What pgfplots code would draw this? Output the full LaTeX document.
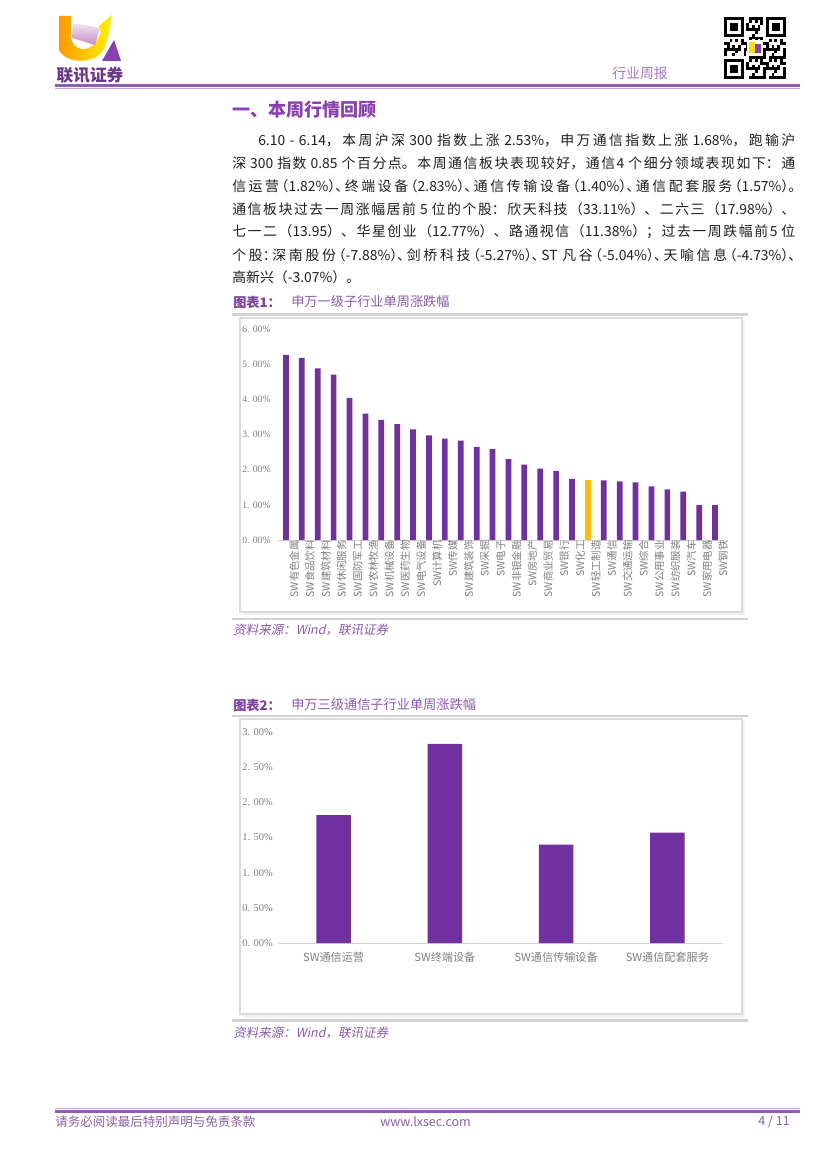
\documentclass[border=0pt]{standalone}
\usepackage{pgfplots}
\pgfplotsset{compat=1.18}
\usepackage{pgfplotstable}
\usepackage{fontspec}
\setmainfont{Noto Sans CJK SC}
\newfontfamily\tickfont{Liberation Serif}
\newfontfamily\srcfont[FakeSlant=0.2]{Noto Sans CJK SC}
\newfontfamily\tightfont[RawFeature=+halt]{Noto Sans CJK SC}
\XeTeXlinebreaklocale "zh"
\XeTeXlinebreakskip=0pt plus 2pt minus 1pt

\definecolor{barpurple}{HTML}{7030A0}
\definecolor{baryellow}{HTML}{FFC000}
\definecolor{headpurple}{HTML}{8A3FB3}
\definecolor{titlepurple}{HTML}{7B3FA0}
\definecolor{softpurple}{HTML}{8C5AB0}
\definecolor{footpurple}{HTML}{8761A8}
\definecolor{linedark}{HTML}{8E5BB5}
\definecolor{linelight}{HTML}{C7A6DE}
\definecolor{ticktext}{HTML}{7F7F7F}
\definecolor{bodytext}{HTML}{1F1F1F}

\newcommand{\fs}[1]{\fontsize{#1}{#1}\selectfont}
\newcommand{\jline}[1]{\parfillskip=0pt\tolerance=9999\relax #1\par}
\newcommand{\finder}[2]{%
  \fill[white] (#1*2.8-2.8,#2*2.8-2.8) rectangle ++(25.2,25.2);
  \fill[black] (#1*2.8,#2*2.8) rectangle ++(19.6,19.6);
  \fill[white] (#1*2.8+2.8,#2*2.8+2.8) rectangle ++(14,14);
  \fill[black] (#1*2.8+5.6,#2*2.8+5.6) rectangle ++(8.4,8.4);}

% SW level-1 industries, weekly change (%)
\pgfplotstableread{
x y
0 5.27
1 5.19
2 4.89
3 4.71
4 4.05
5 3.60
6 3.42
7 3.30
8 3.15
9 2.98
10 2.89
11 2.83
12 2.65
13 2.59
14 2.30
15 2.15
16 2.03
17 1.97
18 1.74
20 1.70
21 1.67
22 1.64
23 1.53
24 1.44
25 1.38
26 0.99
27 0.99
}\swone

% SW level-3 telecom sub-industries
\pgfplotstableread{
x y
0 1.82
1 2.83
2 1.40
3 1.57
}\swthree

\begin{document}
\begin{tikzpicture}
\begin{scope}[x=0.72pt,y=-0.72pt]
  \path[use as bounding box, fill=white] (0,0) rectangle (827,1170);

  % ---- header ----
  \shade[left color=orange!80!yellow, right color=yellow!90!orange]
    (59,16) -- (71,16) -- (71,37) .. controls (72,50) and (88,54) .. (96,42)
    -- (101,33) -- (99,26) -- (112,15) -- (109,34) -- (104,49)
    .. controls (97,63) and (68,66) .. (59,50) -- cycle;
  \shade[top color=violet!10, bottom color=violet!45] (73,23) -- (100,28) -- (95,45) -- (72,38) -- cycle;
  \fill[headpurple] (102,61) -- (121,61) -- (114,40) -- cycle;
  \node[font=\bfseries\fs{12}, text=titlepurple!85!black, inner sep=0] at (90,75) {联讯证券};
  \node[anchor=west, font=\fs{10}, text=softpurple!80, inner sep=0] at (612,73) {行业周报};

  \begin{scope}[shift={(724,17)}]
    \foreach \i in {0,...,21}{\foreach \j in {0,...,21}{%
      \pgfmathtruncatemacro\v{mod(\i*\i+3*\j*\j+\i*\j+5*\i+2*\j,7)}%
      \ifnum\v<4 \fill (\i*2.8,\j*2.8) rectangle ++(2.8,2.8);\fi}}
    \finder{0}{0}\finder{15}{0}\finder{0}{15}
    \fill[white] (23,23) rectangle ++(16,16);
    \fill[yellow!80!orange] (25,25) rectangle ++(6,11);
    \fill[headpurple] (31,27) rectangle ++(6,9);
  \end{scope}

  \draw[linedark, line width=2pt] (55,85.5) -- (800,85.5);
  \draw[linelight, line width=1pt] (55,88.5) -- (800,88.5);

  % ---- section text ----
  \node[anchor=west, inner sep=0, font=\bfseries\fs{13}, text=headpurple] at (232,110) {一、本周行情回顾};
  \begin{scope}[every node/.style={anchor=west, inner sep=0, font=\fs{10}, text=bodytext, align=justify}]
    \node[text width=386.6pt] at (258,140) {\jline{6.10 - 6.14，本周沪深 300 指数上涨 2.53\%，申万通信指数上涨 1.68\%，跑输沪}};
    \node[text width=405.4pt] at (232,163) {\jline{深 300 指数 0.85 个百分点。本周通信板块表现较好，通信4 个细分领域表现如下：通}};
    \node[text width=405.4pt] at (232,186) {\jline{\tightfont 信运营（1.82\%）、终端设备（2.83\%）、通信传输设备（1.40\%）、通信配套服务（1.57\%）。}};
    \node[text width=405.4pt] at (232,209) {\jline{通信板块过去一周涨幅居前 5 位的个股：欣天科技（33.11\%）、二六三（17.98\%）、}};
    \node[text width=405.4pt] at (232,232) {\jline{七一二（13.95）、华星创业（12.77\%）、路通视信（11.38\%）；过去一周跌幅前5 位}};
    \node[text width=405.4pt] at (232,255) {\jline{\tightfont 个股：深南股份（-7.88\%）、剑桥科技（-5.27\%）、ST 凡谷（-5.04\%）、天喻信息（-4.73\%）、}};
    \node at (232,277) {高新兴（-3.07\%）。};
  \end{scope}

  % ---- chart 1 frame ----
  \node[anchor=west, inner sep=0, font=\bfseries\fs{9.5}, text=titlepurple] at (233,302) {图表1：};
  \node[anchor=west, inner sep=0, font=\fs{9.5}, text=softpurple] at (291,302) {申万一级子行业单周涨跌幅};
  \draw[gray!35, line width=1.5pt] (232,314.5) -- (748,314.5);
  \draw[gray!12, line width=1.5pt] (743.5,320) -- (743.5,613.5) -- (242,613.5);
  \draw[gray!28, line width=0.8pt] (240,318) rectangle (742,612);
  \draw[gray!35, line width=1.5pt] (232,619) -- (748,619);
  \node[anchor=west, inner sep=0, font=\srcfont\fs{9}, text=softpurple] at (233,630) {资料来源：Wind，联讯证券};

  % ---- chart 2 frame ----
  \node[anchor=west, inner sep=0, font=\bfseries\fs{9.5}, text=titlepurple] at (233,705) {图表2：};
  \node[anchor=west, inner sep=0, font=\fs{9.5}, text=softpurple] at (291,705) {申万三级通信子行业单周涨跌幅};
  \draw[gray!35, line width=1.5pt] (232,716) -- (748,716);
  \draw[gray!12, line width=1.5pt] (743.5,721) -- (743.5,1015.5) -- (242,1015.5);
  \draw[gray!28, line width=0.8pt] (240,719) rectangle (742,1014);
  \draw[gray!35, line width=1.5pt] (232,1020.5) -- (748,1020.5);
  \node[anchor=west, inner sep=0, font=\srcfont\fs{9}, text=softpurple] at (233,1033) {资料来源：Wind，联讯证券};

  % ---- footer ----
  \draw[linelight, line width=1pt] (55,1108.5) -- (800,1108.5);
  \draw[linedark, line width=2pt] (55,1111.5) -- (800,1111.5);
  \node[anchor=west, inner sep=0, font=\fs{9}, text=footpurple] at (55,1122) {请务必阅读最后特别声明与免责条款};
  \node[anchor=west, inner sep=0, font=\fs{9}, text=footpurple] at (380,1122) {www.lxsec.com};
  \node[anchor=east, inner sep=0, font=\fs{9}, text=footpurple] at (790,1122) {4 / 11};
\end{scope}

\pgfplotsset{
  reportbars/.style={
    scale only axis, anchor=south west,
    ybar, bar shift=0pt,
    axis x line=bottom, axis y line=left,
    x axis line style={-, draw=gray!35, line width=0.7pt},
    y axis line style={draw=none},
    major tick length=0pt,
    enlargelimits=false, ymin=0,
    yticklabel style={font=\tickfont\fs{7}, text=ticktext, anchor=west, inner sep=0pt, xshift=-25.9pt},
  }
}

% chart 1
\begin{axis}[reportbars,
  at={(200.16pt,-388.8pt)}, width=320.4pt, height=151.7pt,
  xmin=-0.5, xmax=27.5, ymax=6, bar width=4.1pt,
  ytick={0,1,2,3,4,5,6},
  yticklabels={0. 00\%,1. 00\%,2. 00\%,3. 00\%,4. 00\%,5. 00\%,6. 00\%},
  xtick={0,...,27},
  xticklabels={SW有色金属,SW食品饮料,SW建筑材料,SW休闲服务,SW国防军工,SW农林牧渔,SW机械设备,SW医药生物,SW电气设备,SW计算机,SW传媒,SW建筑装饰,SW采掘,SW电子,SW非银金融,SW房地产,SW商业贸易,SW银行,SW化工,SW轻工制造,SW通信,SW交通运输,SW综合,SW公用事业,SW纺织服装,SW汽车,SW家用电器,SW钢铁},
  xticklabel style={rotate=90, anchor=east, font=\fs{7.5}, text=ticktext, inner sep=0pt, yshift=-5.8pt},
]
  \addplot[draw=none, fill=barpurple] table[x=x, y=y] {\swone};
  \addplot[draw=none, fill=baryellow] coordinates {(19,1.71)};
\end{axis}

% chart 2
\begin{axis}[reportbars,
  at={(200.16pt,-678.96pt)}, width=320.4pt, height=151.9pt,
  xmin=-0.5, xmax=3.5, ymax=3, bar width=24.8pt,
  ytick={0,0.5,1,1.5,2,2.5,3},
  yticklabels={0. 00\%,0. 50\%,1. 00\%,1. 50\%,2. 00\%,2. 50\%,3. 00\%},
  yticklabel style={font=\tickfont\fs{7.5}},
  xtick={0,1,2,3},
  xticklabels={SW通信运营,SW终端设备,SW通信传输设备,SW通信配套服务},
  xticklabel style={anchor=center, font=\fs{8}, text=ticktext, inner sep=0pt, yshift=-10pt},
]
  \addplot[draw=none, fill=barpurple] table[x=x, y=y] {\swthree};
\end{axis}
\end{tikzpicture}
\end{document}
